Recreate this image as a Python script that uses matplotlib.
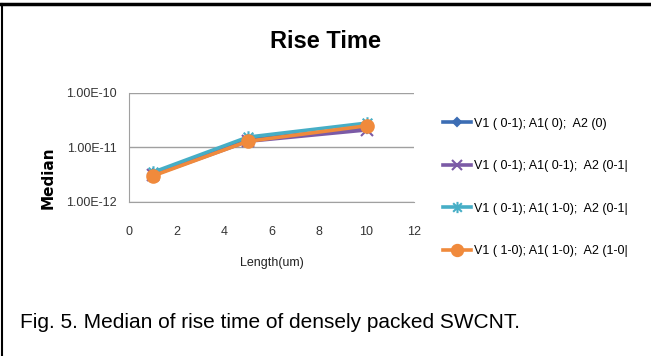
import numpy as np
import matplotlib.pyplot as plt
from matplotlib.lines import Line2D
from matplotlib.path import Path
from matplotlib.ticker import FixedLocator, FuncFormatter

length = [1, 5, 10]
labels = ["V1 ( 0-1); A1( 0);  A2 (0)",
          "V1 ( 0-1); A1( 0-1);  A2 (0-1|",
          "V1 ( 0-1); A1( 1-0);  A2 (0-1|",
          "V1 ( 1-0); A1( 1-0);  A2 (1-0|"]
median_v1 = [3.2e-12, 1.4e-11, 2.3e-11]
median_v2 = [3.1e-12, 1.3e-11, 2.1e-11]
median_v3 = [3.5e-12, 1.55e-11, 2.8e-11]
median_v4 = [3.0e-12, 1.3e-11, 2.5e-11]
yticks = [1e-12, 1e-11, 1e-10]

font = ['Liberation Sans', 'DejaVu Sans']

# excel style "star": an x with a vertical bar through it
star = Path([(-1, -1), (1, 1), (-1, 1), (1, -1), (0, -1.3), (0, 1.3)],
	[Path.MOVETO, Path.LINETO, Path.MOVETO, Path.LINETO, Path.MOVETO, Path.LINETO])

def main():
	fig = plt.figure(figsize=(6.51, 3.56), dpi=100)
	ax = fig.add_axes([129/651, 1-202/356, 285/651, 109/356])

	series = [median_v1, median_v2, median_v3, median_v4]
	colors = ['#3c6db4', '#7b5aa6', '#46aec6', '#f08a3c']
	markers = ['D', 'x', star, 'o']
	msizes = [5, 8, 9, 9]
	for vals, c, m, ms, lab in zip(series, colors, markers, msizes, labels):
		ax.plot(length, vals, color=c, marker=m, markersize=ms, lw=2.6,
			markeredgewidth=1.5, label=lab)

	ax.set_yscale('log')
	ax.set_ylim(1e-12, 1e-10)
	ax.set_xlim(0, 12)
	ax.yaxis.set_major_locator(FixedLocator(yticks))
	ax.yaxis.set_minor_locator(FixedLocator([]))
	ax.yaxis.set_major_formatter(FuncFormatter(lambda v, p: "%.2E" % v))
	ax.set_xticks(range(0, 13, 2))
	ax.grid(axis='y', color='#a0a0a0', lw=1)
	ax.tick_params(length=0, labelsize=9, colors='#333333')
	ax.tick_params(axis='y', pad=9)
	ax.tick_params(axis='x', pad=17)
	for lab in ax.get_xticklabels() + ax.get_yticklabels():
		lab.set_family(font)
	for s in ['top', 'right']:
		ax.spines[s].set_visible(False)
	for s in ['left', 'bottom']:
		ax.spines[s].set_color('#a0a0a0')

	ax.set_xlabel("Length(um)", family=font, fontsize=9, labelpad=14, color='#222222')
	ax.yaxis.set_label_coords(48/651, 1-147/356, transform=fig.transFigure)
	ax.set_ylabel("Median", fontweight='bold', fontsize=11, va='center')

	fig.text(0.5, 1-42/356, "Rise Time", ha='center', va='center',
		fontsize=17, fontweight='bold', family=font)

	ax.legend(loc='center left', bbox_to_anchor=(443/651, 1-187.5/356),
		bbox_transform=fig.transFigure, frameon=False, borderpad=0, borderaxespad=0,
		prop={'family': font, 'size': 9}, handlelength=2.2,
		handletextpad=0.25, labelspacing=2.45, markerscale=0.9)

	fig.text(20/651, 1-322/356, "Fig. 5. Median of rise time of densely packed SWCNT.",
		ha='left', va='center', fontsize=15, family=font)

	fig.add_artist(Line2D([0, 1], [1-4/356, 1-4/356], color='black', lw=2.5))
	fig.add_artist(Line2D([2/651, 2/651], [0, 1-4/356], color='black', lw=1.5))

	fig.savefig('out.png', dpi=100)

if __name__ == '__main__':
	main()
